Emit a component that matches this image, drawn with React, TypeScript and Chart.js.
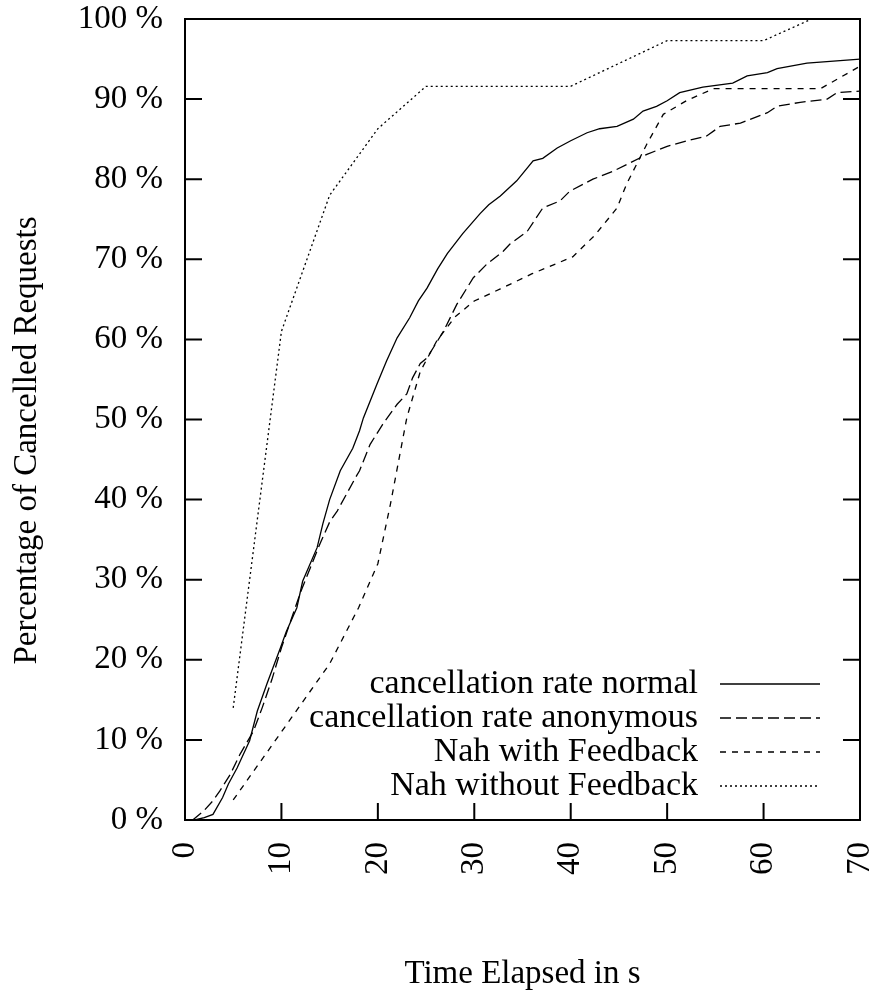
import React, { useEffect, useRef } from "react";
import { Chart, registerables } from "chart.js";

Chart.register(...registerables);

const FONT = '"Liberation Serif", "Times New Roman", serif';

const xAxisTitle = "Time Elapsed in s";
const yAxisTitle = "Percentage of Cancelled Requests";
const seriesLabels = [
  "cancellation rate normal",
  "cancellation rate anonymous",
  "Nah with Feedback",
  "Nah without Feedback",
];

const normalX = [1.0, 2.0, 2.9, 3.9, 4.5, 5.4, 6.7, 7.5, 8.5, 9.9, 10.5, 11.6, 12.2, 13.7, 14.3, 15, 16.1, 17.4, 18.1, 18.5, 19.9, 20.9, 22, 23.3, 24.2, 25.1, 26.2, 27.2, 28.8, 30.6, 31.5, 32.7, 34.4, 36.1, 37.1, 38.6, 40, 41.7, 43, 44.8, 46.5, 47.5, 48.9, 50, 51.3, 53.7, 56.8, 58.3, 60.4, 61.4, 64.5, 70];
const normalY = [0, 0.3, 0.7, 2.8, 4.5, 6.5, 9.9, 13.6, 17, 21.5, 23.5, 26.5, 29.8, 34, 37, 40, 43.6, 46.4, 48.6, 50.2, 54.4, 57.3, 60.2, 62.7, 64.8, 66.4, 68.8, 70.7, 73.2, 75.7, 76.8, 77.9, 79.8, 82.3, 82.6, 83.9, 84.8, 85.8, 86.3, 86.6, 87.5, 88.5, 89.1, 89.8, 90.8, 91.5, 92, 92.9, 93.3, 93.8, 94.5, 95];

const anonX = [0.8, 2, 2.9, 3.6, 4.7, 5.7, 7.1, 8, 9, 10, 11, 12, 13, 14, 15, 15.8, 17.8, 18.1, 19.2, 20.5, 22, 23, 23.6, 24.4, 25.1, 26.8, 28.2, 29.9, 31.3, 33, 33.7, 35.5, 37.1, 38.9, 39.9, 42.3, 44.4, 46.1, 47.9, 50, 52.1, 54.1, 55.5, 57.6, 60.4, 61.4, 63.8, 66.6, 67.6, 70];
const anonY = [0, 1.2, 2.4, 3.6, 5.7, 8.2, 11.1, 14, 17.5, 21.5, 25, 28.5, 31.5, 34.5, 37.2, 38.6, 43, 43.6, 46.9, 49.4, 51.9, 53.2, 55.2, 57, 57.7, 61, 64.4, 67.7, 69.4, 71, 71.9, 73.5, 76.4, 77.3, 78.5, 80, 81, 82, 83.1, 84.1, 84.8, 85.4, 86.6, 87, 88.3, 89.1, 89.6, 90, 90.8, 91];

const withFbX = [5, 10, 15, 18, 20, 21.3, 23, 24.4, 26.1, 28, 30, 32.7, 36, 40.2, 42.5, 44.8, 45.8, 47.9, 49.6, 52, 54.8, 65.9, 70];
const withFbY = [2.5, 11, 19.5, 26.5, 32, 39.4, 50.2, 56, 59.8, 62.8, 64.8, 66.3, 68.2, 70.3, 73, 76.4, 79.4, 84.4, 88.1, 89.8, 91.3, 91.3, 94.1];

const withoutFbX = [5, 10, 15, 20, 25, 40, 50, 60, 65];
const withoutFbY = [14, 61, 78, 86.3, 91.6, 91.6, 97.3, 97.3, 100];

const xMin = 0, xMax = 70, xStep = 10;
const yMin = 0, yMax = 100, yStep = 10;

function pts(xs: number[], ys: number[]) {
  return xs.map((x, i) => ({ x, y: ys[i] }));
}

function zeroPadding(scale: any) {
  scale.paddingTop = 0;
  scale.paddingBottom = 0;
  scale.paddingLeft = 0;
  scale.paddingRight = 0;
}

const gnuplotPlugin = {
  id: "gnuplotFrame",
  afterDatasetsDraw(chart: any) {
    const { ctx, chartArea, scales } = chart;
    const { left, right, top, bottom } = chartArea;
    ctx.save();
    ctx.strokeStyle = "#000";
    ctx.lineWidth = 2;
    ctx.setLineDash([]);
    // inward ticks
    const tl = 17;
    ctx.beginPath();
    for (let v = yMin; v <= yMax; v += yStep) {
      const py = scales.y.getPixelForValue(v);
      ctx.moveTo(left, py);
      ctx.lineTo(left + tl, py);
      ctx.moveTo(right, py);
      ctx.lineTo(right - tl, py);
    }
    for (let v = xMin; v <= xMax; v += xStep) {
      const px = scales.x.getPixelForValue(v);
      ctx.moveTo(px, bottom);
      ctx.lineTo(px, bottom - tl);
    }
    ctx.stroke();
    // frame
    ctx.strokeRect(left, top, right - left, bottom - top);

    // legend (text right, sample on right)
    ctx.font = `34px ${FONT}`;
    ctx.fillStyle = "#000";
    ctx.textAlign = "right";
    ctx.textBaseline = "middle";
    const datasets = chart.data.datasets;
    const rowH = 34;
    const firstY = bottom - 136;
    datasets.forEach((ds: any, i: number) => {
      const cy = firstY + i * rowH;
      ctx.fillText(ds.label, right - 162, cy);
      ctx.beginPath();
      ctx.lineWidth = ds.borderWidth;
      ctx.setLineDash(ds.borderDash || []);
      ctx.moveTo(right - 140, cy);
      ctx.lineTo(right - 40, cy);
      ctx.stroke();
    });
    ctx.setLineDash([]);

    // y axis title
    ctx.font = `33px ${FONT}`;
    ctx.translate(left - 158, (top + bottom) / 2 + 21);
    ctx.rotate(-Math.PI / 2);
    ctx.textAlign = "center";
    ctx.textBaseline = "middle";
    ctx.fillText(yAxisTitle, 0, 0);
    ctx.restore();
  },
};

export default function App() {
  const ref = useRef<HTMLCanvasElement | null>(null);
  useEffect(() => {
    if (!ref.current) return;
    const common = { fill: false, pointRadius: 0, borderColor: "#000", borderWidth: 1.3, tension: 0 };
    const chart = new Chart(ref.current, {
      type: "line",
      data: {
        datasets: [
          { ...common, label: seriesLabels[0], data: pts(normalX, normalY), borderDash: [] },
          { ...common, label: seriesLabels[1], data: pts(anonX, anonY), borderDash: [11, 5] },
          { ...common, label: seriesLabels[2], data: pts(withFbX, withFbY), borderDash: [6, 6] },
          { ...common, label: seriesLabels[3], data: pts(withoutFbX, withoutFbY), borderDash: [2, 3] },
        ],
      },
      options: {
        responsive: false,
        animation: false,
        events: [],
        layout: { padding: { left: 0, top: 19, right: 23, bottom: 0 } },
        plugins: { legend: { display: false }, tooltip: { enabled: false } },
        scales: {
          x: {
            type: "linear",
            min: xMin,
            max: xMax,
            grid: { display: false, drawTicks: false },
            border: { display: false },
            ticks: {
              stepSize: xStep,
              minRotation: 90,
              maxRotation: 90,
              autoSkip: false,
              padding: 22,
              color: "#000",
              font: { family: FONT, size: 33, lineHeight: 1.1 },
            },
            title: {
              display: true,
              text: xAxisTitle,
              color: "#000",
              font: { family: FONT, size: 33, lineHeight: 1.2 },
              padding: { top: 0, bottom: 6 },
            },
            afterFit: (scale: any) => {
              scale.height = 180;
              zeroPadding(scale);
            },
          },
          y: {
            type: "linear",
            min: yMin,
            max: yMax,
            grid: { display: false, drawTicks: false },
            border: { display: false },
            ticks: {
              stepSize: yStep,
              padding: 22,
              color: "#000",
              font: { family: FONT, size: 33, lineHeight: 1.1 },
              callback: (v: any) => `${v} %`,
            },
            afterFit: (scale: any) => {
              scale.width = 185;
              zeroPadding(scale);
            },
          },
        },
      },
      plugins: [gnuplotPlugin],
    } as any);
    return () => chart.destroy();
  }, []);
  return (
    <div style={{ position: "absolute", left: 0, top: 0, width: 883, height: 1000, background: "#fff" }}>
      <canvas ref={ref} width={883} height={1000} style={{ width: 883, height: 1000, display: "block" }} />
    </div>
  );
}
